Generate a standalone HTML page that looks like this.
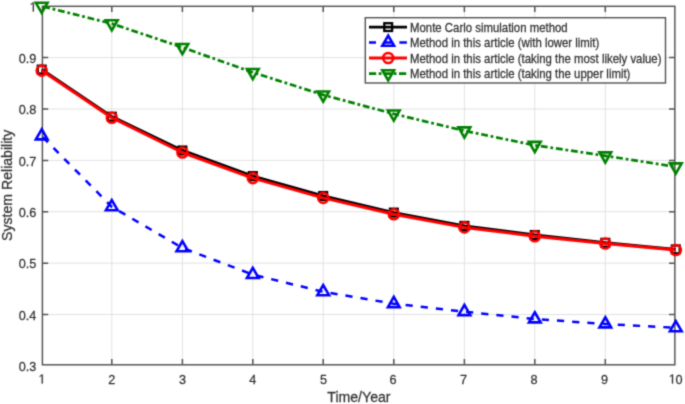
<!DOCTYPE html><html><head><meta charset="utf-8"><style>html,body{margin:0;padding:0;background:#fff;overflow:hidden}svg{display:block}text{font-family:"Liberation Sans",sans-serif}</style></head><body>
<svg width="685" height="404" viewBox="0 0 685 404">
<defs><filter id="bl" x="0" y="0" width="685" height="404" filterUnits="userSpaceOnUse" color-interpolation-filters="sRGB"><feConvolveMatrix order="3" kernelMatrix="1 4 1 4 16 4 1 4 1" edgeMode="duplicate"/></filter></defs>
<g filter="url(#bl)">
<rect width="685" height="404" fill="#fff"/>
<path d="M111.8,6.3V364.8M182.4,6.3V364.8M252.8,6.3V364.8M323.2,6.3V364.8M393.8,6.3V364.8M464.4,6.3V364.8M534.8,6.3V364.8M605.3,6.3V364.8M42.4,314.52H674.85M42.4,263.14H674.85M42.4,211.76H674.85M42.4,160.38H674.85M42.4,109H674.85M42.4,57.62H674.85" stroke="#e1e1e1" stroke-width="1" fill="none"/>
<path d="M111.8,364.8v-5.8M111.8,6.3v5.8M182.4,364.8v-5.8M182.4,6.3v5.8M252.8,364.8v-5.8M252.8,6.3v5.8M323.2,364.8v-5.8M323.2,6.3v5.8M393.8,364.8v-5.8M393.8,6.3v5.8M464.4,364.8v-5.8M464.4,6.3v5.8M534.8,364.8v-5.8M534.8,6.3v5.8M605.3,364.8v-5.8M605.3,6.3v5.8M42.4,314.52h5.8M674.85,314.52h-5.8M42.4,263.14h5.8M674.85,263.14h-5.8M42.4,211.76h5.8M674.85,211.76h-5.8M42.4,160.38h5.8M674.85,160.38h-5.8M42.4,109h5.8M674.85,109h-5.8M42.4,57.62h5.8M674.85,57.62h-5.8" stroke="#525252" stroke-width="1.5" fill="none"/>
<rect x="42.4" y="6.3" width="632.45" height="358.5" fill="none" stroke="#525252" stroke-width="1.45"/>
<path transform="translate(38.17,383.6) scale(0.006201,-0.006449) translate(50,0)" d="M515,0L696,0L696,1409L530,1409L197,1180L197,1010L515,1237Z" fill="#333333" stroke="#333333" stroke-width="40.3"/>
<text transform="translate(111.8,383.6) scale(1,1.04)" font-size="12.7" fill="#333333" stroke="#333333" stroke-width="0.25" text-anchor="middle">2</text>
<text transform="translate(182.4,383.6) scale(1,1.04)" font-size="12.7" fill="#333333" stroke="#333333" stroke-width="0.25" text-anchor="middle">3</text>
<text transform="translate(252.8,383.6) scale(1,1.04)" font-size="12.7" fill="#333333" stroke="#333333" stroke-width="0.25" text-anchor="middle">4</text>
<text transform="translate(323.4,383.6) scale(1,1.04)" font-size="12.7" fill="#333333" stroke="#333333" stroke-width="0.25" text-anchor="middle">5</text>
<text transform="translate(393,383.6) scale(1,1.04)" font-size="12.7" fill="#333333" stroke="#333333" stroke-width="0.25" text-anchor="middle">6</text>
<text transform="translate(463.6,383.6) scale(1,1.04)" font-size="12.7" fill="#333333" stroke="#333333" stroke-width="0.25" text-anchor="middle">7</text>
<text transform="translate(534.1,383.6) scale(1,1.04)" font-size="12.7" fill="#333333" stroke="#333333" stroke-width="0.25" text-anchor="middle">8</text>
<text transform="translate(604.6,383.6) scale(1,1.04)" font-size="12.7" fill="#333333" stroke="#333333" stroke-width="0.25" text-anchor="middle">9</text>
<path transform="translate(668.44,383.6) scale(0.006201,-0.006449) translate(50,0)" d="M515,0L696,0L696,1409L530,1409L197,1180L197,1010L515,1237Z" fill="#333333" stroke="#333333" stroke-width="40.3"/>
<text transform="translate(675.5,383.6) scale(1,1.04)" font-size="12.7" fill="#333333" stroke="#333333" stroke-width="0.25">0</text>
<text transform="translate(36.3,371.2) scale(1,1.04)" font-size="12.7" fill="#333333" stroke="#333333" stroke-width="0.25" text-anchor="end">0.3</text>
<text transform="translate(36.3,319.82) scale(1,1.04)" font-size="12.7" fill="#333333" stroke="#333333" stroke-width="0.25" text-anchor="end">0.4</text>
<text transform="translate(36.3,268.44) scale(1,1.04)" font-size="12.7" fill="#333333" stroke="#333333" stroke-width="0.25" text-anchor="end">0.5</text>
<text transform="translate(36.3,217.06) scale(1,1.04)" font-size="12.7" fill="#333333" stroke="#333333" stroke-width="0.25" text-anchor="end">0.6</text>
<text transform="translate(36.3,165.68) scale(1,1.04)" font-size="12.7" fill="#333333" stroke="#333333" stroke-width="0.25" text-anchor="end">0.7</text>
<text transform="translate(36.3,114.3) scale(1,1.04)" font-size="12.7" fill="#333333" stroke="#333333" stroke-width="0.25" text-anchor="end">0.8</text>
<text transform="translate(36.3,62.92) scale(1,1.04)" font-size="12.7" fill="#333333" stroke="#333333" stroke-width="0.25" text-anchor="end">0.9</text>
<path transform="translate(29.24,11.54) scale(0.006201,-0.006449) translate(50,0)" d="M515,0L696,0L696,1409L530,1409L197,1180L197,1010L515,1237Z" fill="#333333" stroke="#333333" stroke-width="40.3"/>
<text transform="translate(358.9,402.3) scale(1,1.04)" font-size="14.1" fill="#333333" stroke="#333333" stroke-width="0.25" text-anchor="middle">Time/Year</text>
<text transform="translate(11.6,185.3) rotate(-90) scale(1,1.04)" font-size="14.1" fill="#333333" stroke="#333333" stroke-width="0.25" text-anchor="middle">System Reliability</text>
<polyline points="41.7,69.6 111.8,116.7 182.4,150.5 252.8,176.1 323.2,196 393.8,212.6 464.4,225.9 534.8,235 605.3,242.8 675.8,249.4" fill="none" stroke="#000000" stroke-width="3.0" stroke-linejoin="round"/>
<rect x="37.8" y="65.7" width="7.8" height="7.8" fill="none" stroke="#000000" stroke-width="2.3"/>
<rect x="107.9" y="112.8" width="7.8" height="7.8" fill="none" stroke="#000000" stroke-width="2.3"/>
<rect x="178.5" y="146.6" width="7.8" height="7.8" fill="none" stroke="#000000" stroke-width="2.3"/>
<rect x="248.9" y="172.2" width="7.8" height="7.8" fill="none" stroke="#000000" stroke-width="2.3"/>
<rect x="319.3" y="192.1" width="7.8" height="7.8" fill="none" stroke="#000000" stroke-width="2.3"/>
<rect x="389.9" y="208.7" width="7.8" height="7.8" fill="none" stroke="#000000" stroke-width="2.3"/>
<rect x="460.5" y="222" width="7.8" height="7.8" fill="none" stroke="#000000" stroke-width="2.3"/>
<rect x="530.9" y="231.1" width="7.8" height="7.8" fill="none" stroke="#000000" stroke-width="2.3"/>
<rect x="601.4" y="238.9" width="7.8" height="7.8" fill="none" stroke="#000000" stroke-width="2.3"/>
<rect x="671.9" y="245.5" width="7.8" height="7.8" fill="none" stroke="#000000" stroke-width="2.3"/>
<polyline points="41.7,136 111.8,206.8 182.4,247.9 252.8,274.6 323.2,291.8 393.8,303.7 464.4,311.7 534.8,319 605.3,324 675.8,327.8" fill="none" stroke="#0000ff" stroke-width="2.5" stroke-linejoin="round" stroke-dasharray="7.2 8.02" stroke-dashoffset="13.62"/>
<path d="M41.7,129.25L47.55,139.38L35.85,139.38Z" fill="none" stroke="#0000ff" stroke-width="2.6" stroke-linejoin="miter"/>
<path d="M111.8,200.05L117.65,210.18L105.95,210.18Z" fill="none" stroke="#0000ff" stroke-width="2.6" stroke-linejoin="miter"/>
<path d="M182.4,241.15L188.25,251.28L176.55,251.28Z" fill="none" stroke="#0000ff" stroke-width="2.6" stroke-linejoin="miter"/>
<path d="M252.8,267.85L258.65,277.98L246.95,277.98Z" fill="none" stroke="#0000ff" stroke-width="2.6" stroke-linejoin="miter"/>
<path d="M323.2,285.05L329.05,295.18L317.35,295.18Z" fill="none" stroke="#0000ff" stroke-width="2.6" stroke-linejoin="miter"/>
<path d="M393.8,296.95L399.65,307.08L387.95,307.08Z" fill="none" stroke="#0000ff" stroke-width="2.6" stroke-linejoin="miter"/>
<path d="M464.4,304.95L470.25,315.08L458.55,315.08Z" fill="none" stroke="#0000ff" stroke-width="2.6" stroke-linejoin="miter"/>
<path d="M534.8,312.25L540.65,322.38L528.95,322.38Z" fill="none" stroke="#0000ff" stroke-width="2.6" stroke-linejoin="miter"/>
<path d="M605.3,317.25L611.15,327.38L599.45,327.38Z" fill="none" stroke="#0000ff" stroke-width="2.6" stroke-linejoin="miter"/>
<path d="M675.8,321.05L681.65,331.18L669.95,331.18Z" fill="none" stroke="#0000ff" stroke-width="2.6" stroke-linejoin="miter"/>
<polyline points="41.7,70.6 111.8,117.7 182.4,152.5 252.8,178.1 323.2,197.9 393.8,214.3 464.4,227.4 534.8,236.2 605.3,243.5 675.8,250" fill="none" stroke="#ff0000" stroke-width="3.0" stroke-linejoin="round"/>
<circle cx="41.7" cy="70.6" r="5.0" fill="none" stroke="#ff0000" stroke-width="2.6"/>
<circle cx="111.8" cy="117.7" r="5.0" fill="none" stroke="#ff0000" stroke-width="2.6"/>
<circle cx="182.4" cy="152.5" r="5.0" fill="none" stroke="#ff0000" stroke-width="2.6"/>
<circle cx="252.8" cy="178.1" r="5.0" fill="none" stroke="#ff0000" stroke-width="2.6"/>
<circle cx="323.2" cy="197.9" r="5.0" fill="none" stroke="#ff0000" stroke-width="2.6"/>
<circle cx="393.8" cy="214.3" r="5.0" fill="none" stroke="#ff0000" stroke-width="2.6"/>
<circle cx="464.4" cy="227.4" r="5.0" fill="none" stroke="#ff0000" stroke-width="2.6"/>
<circle cx="534.8" cy="236.2" r="5.0" fill="none" stroke="#ff0000" stroke-width="2.6"/>
<circle cx="605.3" cy="243.5" r="5.0" fill="none" stroke="#ff0000" stroke-width="2.6"/>
<circle cx="675.8" cy="250" r="5.0" fill="none" stroke="#ff0000" stroke-width="2.6"/>
<polyline points="41.7,6.2 111.8,23.6 182.4,47.4 252.8,72.4 323.2,94.9 393.8,113.9 464.4,130.8 534.8,145.3 605.3,155.8 675.8,166.8" fill="none" stroke="#008000" stroke-width="2.7" stroke-linejoin="round" stroke-dasharray="6.8 2.8 2.8 2.82" stroke-dashoffset="13.62"/>
<path d="M41.7,12.95L47.55,2.82L35.85,2.82Z" fill="none" stroke="#008000" stroke-width="2.6" stroke-linejoin="miter"/>
<path d="M111.8,30.35L117.65,20.22L105.95,20.22Z" fill="none" stroke="#008000" stroke-width="2.6" stroke-linejoin="miter"/>
<path d="M182.4,54.15L188.25,44.02L176.55,44.02Z" fill="none" stroke="#008000" stroke-width="2.6" stroke-linejoin="miter"/>
<path d="M252.8,79.15L258.65,69.02L246.95,69.02Z" fill="none" stroke="#008000" stroke-width="2.6" stroke-linejoin="miter"/>
<path d="M323.2,101.65L329.05,91.52L317.35,91.52Z" fill="none" stroke="#008000" stroke-width="2.6" stroke-linejoin="miter"/>
<path d="M393.8,120.65L399.65,110.52L387.95,110.52Z" fill="none" stroke="#008000" stroke-width="2.6" stroke-linejoin="miter"/>
<path d="M464.4,137.55L470.25,127.42L458.55,127.42Z" fill="none" stroke="#008000" stroke-width="2.6" stroke-linejoin="miter"/>
<path d="M534.8,152.05L540.65,141.92L528.95,141.92Z" fill="none" stroke="#008000" stroke-width="2.6" stroke-linejoin="miter"/>
<path d="M605.3,162.55L611.15,152.42L599.45,152.42Z" fill="none" stroke="#008000" stroke-width="2.6" stroke-linejoin="miter"/>
<path d="M675.8,173.55L681.65,163.42L669.95,163.42Z" fill="none" stroke="#008000" stroke-width="2.6" stroke-linejoin="miter"/>
<rect x="365.3" y="17.7" width="300.2" height="65.3" fill="#fff" stroke="#525252" stroke-width="1.4"/>
<path d="M369,27.1H407" stroke="#000000" stroke-width="2.9"/>
<rect x="384.3" y="23.2" width="7.8" height="7.8" fill="none" stroke="#000000" stroke-width="2.3"/>
<text transform="translate(410,31.6) scale(1,1.04)" font-size="11.4" fill="#333333" stroke="#333333" stroke-width="0.25">Monte Carlo simulation method</text>
<path d="M369,42.4h7M384,42.4h7M399.4,42.4h7.5" stroke="#0000ff" stroke-width="2.5"/>
<path d="M388.2,35.65L394.05,45.78L382.35,45.78Z" fill="none" stroke="#0000ff" stroke-width="2.6" stroke-linejoin="miter"/>
<text transform="translate(410,46.9) scale(1,1.04)" font-size="11.4" fill="#333333" stroke="#333333" stroke-width="0.25">Method in this article (with lower limit)</text>
<path d="M369,58.0H407" stroke="#ff0000" stroke-width="2.9"/>
<circle cx="388.2" cy="58" r="5.0" fill="none" stroke="#ff0000" stroke-width="2.6"/>
<text transform="translate(410,62.5) scale(1,1.04)" font-size="11.4" fill="#333333" stroke="#333333" stroke-width="0.25">Method in this article (taking the most likely value)</text>
<path d="M369,73.6H407" stroke="#008000" stroke-width="2.9" stroke-dasharray="7.2 2.5 2.8 2.5"/>
<path d="M388.2,80.35L394.05,70.22L382.35,70.22Z" fill="none" stroke="#008000" stroke-width="2.6" stroke-linejoin="miter"/>
<text transform="translate(410,78.1) scale(1,1.04)" font-size="11.4" fill="#333333" stroke="#333333" stroke-width="0.25">Method in this article (taking the upper limit)</text>
</g></svg></body></html>
